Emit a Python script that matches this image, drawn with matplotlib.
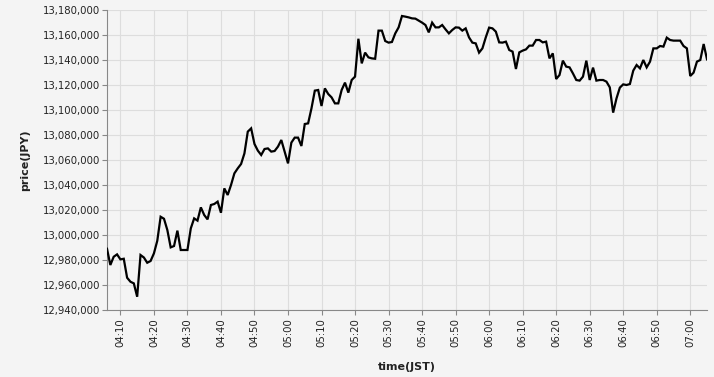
import matplotlib
matplotlib.use("Agg")
import matplotlib.pyplot as plt
import matplotlib.dates as mdates
import numpy as np
import pandas as pd

# one-minute prices, 04:06 .. 07:05 (JST)
start_time = "2024-01-01 04:06"
prices = [
    12989000, 12976000, 12982600, 12984500, 12980500, 12981000, 12965800, 12962600, 12961300, 12950600,
    12984000, 12982000, 12977800, 12979200, 12985300, 12995400, 13014600, 13013000, 13004000, 12990100,
    12991200, 13003500, 12988000, 12988000, 12988000, 13005300, 13013300, 13011500, 13022100, 13016000,
    13012500, 13024000, 13024800, 13026700, 13017800, 13037300, 13032000, 13040000, 13049300, 13053300,
    13056800, 13065300, 13082700, 13085300, 13072800, 13067500, 13064000, 13068800, 13069300, 13066700,
    13067200, 13070700, 13076000, 13066700, 13057300, 13073900, 13077900, 13077900, 13071200, 13088800,
    13089300, 13101300, 13115500, 13116000, 13103200, 13117300, 13112800, 13110100, 13105300, 13105300,
    13116000, 13121900, 13113900, 13124000, 13126700, 13157000, 13137300, 13145900, 13142100, 13141300,
    13141000, 13163500, 13163500, 13155200, 13153900, 13154400, 13161300, 13166100, 13175200, 13174700,
    13174100, 13173300, 13173100, 13171500, 13169900, 13168000, 13162100, 13169900, 13166100, 13166100,
    13168000, 13164500, 13161300, 13164000, 13166100, 13165900, 13163500, 13165300, 13158100, 13153900,
    13153300, 13145900, 13149300, 13158100, 13165900, 13165300, 13162700, 13154100, 13153900, 13154700,
    13148000, 13146700, 13132800, 13146100, 13147500, 13148500, 13151500, 13151500, 13156000, 13156000,
    13154100, 13154700, 13141300, 13145300, 13124800, 13128000, 13139500, 13134700, 13134100, 13129300,
    13124000, 13123500, 13126700, 13139500, 13124000, 13133900, 13123500, 13124000, 13124000, 13122700,
    13118100, 13097900, 13109300, 13117900, 13120500, 13120000, 13120800, 13131500, 13136000, 13133300,
    13140000, 13134100, 13138700, 13149300, 13149300, 13151200, 13150700, 13157900, 13156000, 13155500,
    13155500, 13155500, 13151200, 13149300, 13127200, 13129900, 13138700, 13140000, 13152800, 13140500,
]
times = pd.date_range(start_time, periods=len(prices), freq="1min")

y_min, y_max, y_step = 12940000, 13180000, 20000

BG = "#f4f4f4"
GRID = "#dddddd"
AXIS = "#888888"

fig = plt.figure(figsize=(7.14, 3.77), dpi=100, facecolor=BG)
ax = fig.add_axes([107/714, 1-310/377, 600/714, 300/377], facecolor=BG)

ax.plot(times, prices, color="black", linewidth=1.6, solid_joinstyle="miter", zorder=3)

ax.set_xlim(times[0], times[-1])
ax.set_ylim(y_min, y_max)
ax.set_yticks(np.arange(y_min, y_max + 1, y_step))
ax.yaxis.set_major_formatter(matplotlib.ticker.FuncFormatter(lambda v, p: f"{int(v):,}"))

ax.xaxis.set_major_locator(mdates.MinuteLocator(byminute=range(0, 60, 10)))
ax.xaxis.set_major_formatter(mdates.DateFormatter("%H:%M"))

ax.grid(True, color=GRID, linewidth=0.8, zorder=0)
ax.set_axisbelow(True)
for s in ["top", "right"]:
    ax.spines[s].set_visible(False)
for s in ["left", "bottom"]:
    ax.spines[s].set_color(AXIS)
    ax.spines[s].set_linewidth(0.8)

ax.tick_params(axis="both", colors=AXIS, labelcolor="#222222", labelsize=7.3, length=3.6, width=0.8)
ax.tick_params(axis="y", pad=1.5)
ax.tick_params(axis="x", pad=2.5)
for lab in ax.get_xticklabels():
    lab.set_rotation(90)

fig.text(25/714, 1-160/377, "price(JPY)", rotation=90, ha="center", va="center",
         fontsize=8, fontweight="bold", color="#222222")
fig.text(407/714, 1-366.5/377, "time(JST)", ha="center", va="center",
         fontsize=8, fontweight="bold", color="#222222")

fig.savefig("out.png", dpi=100, facecolor=BG)
